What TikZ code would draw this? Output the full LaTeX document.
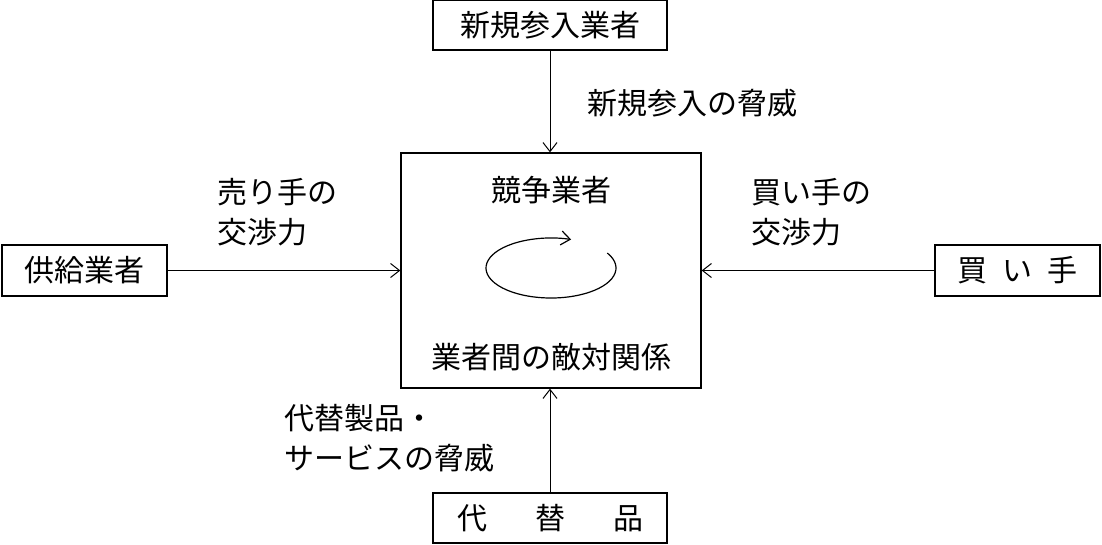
\documentclass[tikz,border=0pt]{standalone}
\usetikzlibrary{arrows.meta}
\usepackage{fontspec}
\newfontfamily\jp{Noto Sans CJK JP}
\begin{document}
\begin{tikzpicture}[x=1pt,y=-1pt,
  bx/.style={draw,line width=1.3pt,inner sep=0pt},
  ar/.style={->,line width=1pt,>={Straight Barb[length=9pt,width=14pt]}},
  every node/.style={font=\jp\fontsize{30}{40}\selectfont}]
\useasboundingbox (0,0) rectangle (1102,544);
\node[bx,minimum width=234pt,minimum height=50pt] (top) at (550,25) {新規参入業者};
\node[bx,minimum width=300pt,minimum height=235pt] (c) at (551,270.5) {};
\node[bx,minimum width=165pt,minimum height=51pt] (l) at (84.5,270.5) {供給業者};
\node[bx,minimum width=165pt,minimum height=51pt] (r) at (1017.5,270.5) {買\hspace{0.5em}い\hspace{0.5em}手};
\node[bx,minimum width=234pt,minimum height=50pt] (b) at (550,518) {代\hspace{1.6em}替\hspace{1.6em}品};
\draw[ar] (top) -- (top|-c.north);
\draw[ar] (b) -- (b|-c.south);
\draw[ar] (l) -- (c.west|-l);
\draw[ar] (r) -- (c.east|-r);
\node (t1) at (551,190) {競争業者};
\node (t2) at (551,357) {業者間の敵対関係};
\node[anchor=west] (lt) at (584,103) {新規参入の脅威};
\node[anchor=west,align=left] (ll) at (214,212) {売り手の\\交渉力};
\node[anchor=west,align=left] (rl) at (748,212) {買い手の\\交渉力};
\node[anchor=west,align=left] (bl) at (281,438) {代替製品・\\サービスの脅威};
\draw[ar,line width=1.2pt] (551,268) ++(-30:65 and 30) arc[start angle=-30,end angle=288,x radius=65,y radius=30];
\end{tikzpicture}
\end{document}
